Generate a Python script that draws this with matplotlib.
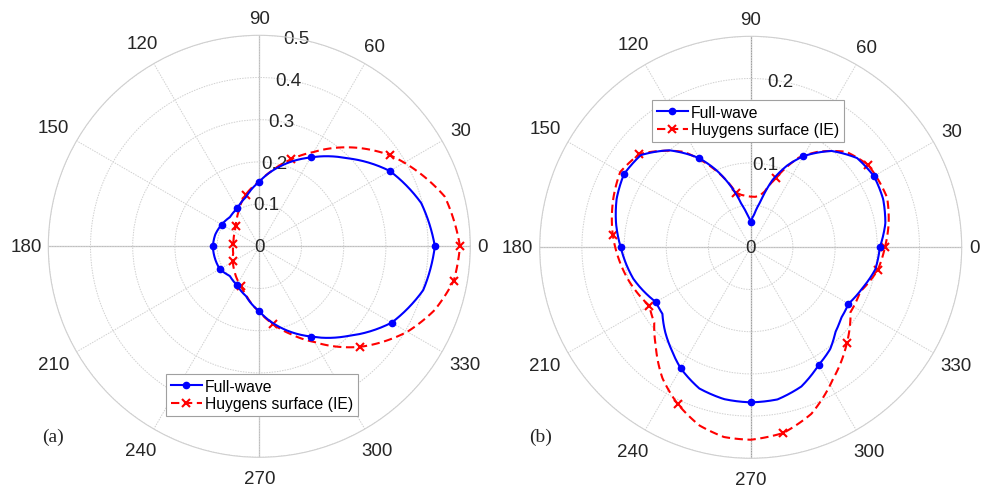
import numpy as np
import matplotlib.pyplot as plt
from matplotlib.lines import Line2D

# ---- data (angles in degrees, radius) ----
# (a) left plot
a_full_ang = [0, 15, 30, 45, 60, 75, 90, 105, 120, 135, 150, 165, 180, 195, 210,
              225, 240, 255, 270, 285, 300, 315, 330, 345, 360]
a_full_r = [0.416, 0.397, 0.357, 0.295, 0.243, 0.197, 0.153, 0.121, 0.104, 0.098,
            0.103, 0.108, 0.110, 0.109, 0.108, 0.099, 0.106, 0.122, 0.154, 0.200,
            0.247, 0.300, 0.362, 0.402, 0.416]
a_huy_ang = [0, 15, 35, 45, 60, 70, 80, 90, 105, 120, 130, 140, 150, 165, 175, 180,
             195, 210, 225, 235, 245, 255, 270, 280, 290, 300, 315, 330, 340, 350, 360]
a_huy_r = [0.4755, 0.455, 0.377, 0.330, 0.258, 0.219, 0.183, 0.153, 0.126, 0.097,
           0.083, 0.073, 0.067, 0.063, 0.062, 0.062, 0.064, 0.072, 0.083, 0.093,
           0.103, 0.120, 0.155, 0.187, 0.222, 0.262, 0.337, 0.405, 0.442, 0.468, 0.4755]

# (b) right plot
b_full_ang = [0, 10, 20, 30, 40, 50, 60, 66, 72, 78, 84, 90, 96, 102, 108, 114, 120,
              130, 140, 150, 160, 170, 180, 195, 210, 217, 225, 232, 240, 250, 260,
              270, 280, 290, 300, 308, 315, 322, 330, 340, 350, 360]
b_full_r = [0.153, 0.162, 0.167, 0.1686, 0.1645, 0.149, 0.1246, 0.106, 0.084, 0.055,
            0.039, 0.0304, 0.039, 0.052, 0.076, 0.100, 0.1218, 0.150, 0.170, 0.1734,
            0.169, 0.162, 0.154, 0.144, 0.1297, 0.131, 0.143, 0.153, 0.1657, 0.178,
            0.1826, 0.1837, 0.183, 0.1755, 0.161, 0.153, 0.142, 0.136, 0.1338, 0.141,
            0.150, 0.153]
b_huy_ang = [0, 10, 20, 35, 45, 55, 62, 70, 76, 80, 85, 90, 95, 100, 105, 115, 125,
             140, 150, 160, 175, 195, 210, 218, 226, 236, 245, 254, 262, 270, 280,
             290, 302, 315, 327, 338, 350, 360]
b_huy_r = [0.159, 0.166, 0.172, 0.170, 0.160, 0.138, 0.120, 0.0873, 0.068, 0.062,
           0.060, 0.060, 0.061, 0.063, 0.0667, 0.102, 0.138, 0.172, 0.1785, 0.173,
           0.164, 0.150, 0.1386, 0.145, 0.162, 0.187, 0.2048, 0.2197, 0.227, 0.228,
           0.2233, 0.210, 0.184, 0.161, 0.141, 0.140, 0.153, 0.159]

theta_labels = [0, 30, 60, 90, 120, 150, 180, 210, 240, 270, 300, 330]
label_pos = {0: 1.06, 30: 1.10, 60: 1.095, 90: 1.08, 120: 1.11, 150: 1.125,
             180: 1.105, 210: 1.125, 240: 1.12, 270: 1.10, 300: 1.12, 330: 1.125}

txt_col = '#262626'
grid_col = '#d0d0d0'
axis_col = '#bdbdbd'

plt.rcParams['font.family'] = ['Liberation Sans', 'DejaVu Sans']

fig = plt.figure(figsize=(9.88, 4.89), dpi=100)


def polar_panel(rect, rmax, rings, rlabels, full_ang, full_r, huy_ang, huy_r,
                tag, leg_anchor, vert_col):
    ax = fig.add_axes(rect, projection='polar')
    ax.set_ylim(0, rmax)
    ax.set_xticks(np.deg2rad(theta_labels))
    ax.set_xticklabels([])
    ax.set_yticks(rings)
    ax.set_yticklabels([])
    ax.grid(True, ls=(0, (1.5, 1.2)), color=grid_col, lw=0.7)
    ax.spines['polar'].set_color(grid_col)
    ax.spines['polar'].set_linewidth(0.8)
    for a, c in [(0, axis_col), (180, axis_col), (90, vert_col), (270, vert_col)]:
        ax.plot([np.deg2rad(a)] * 2, [0, rmax], color=c, lw=0.9, zorder=1)

    for a in theta_labels:
        ax.text(np.deg2rad(a), rmax * label_pos[a], str(a), ha='center', va='center',
                fontsize=13.5, color=txt_col, clip_on=False)
    for r in rlabels:
        ax.text(np.deg2rad(80), r, ('%g' % r), ha='center', va='center',
                fontsize=13.5, color=txt_col, zorder=2)

    fa = np.deg2rad(full_ang)
    fr = np.array(full_r)
    ha = np.deg2rad(huy_ang)
    hr = np.array(huy_r)
    red_marks = [i for i, a in enumerate(huy_ang) if a % 35 == 0 and a < 360]
    blue_marks = [i for i, a in enumerate(full_ang) if a % 30 == 0 and a < 360]

    red_style = dict(color='red', ls=(0, (4, 2.2)), lw=1.5)
    blue_style = dict(color='blue', ls='-', lw=1.5)
    l2, = ax.plot(ha, hr, zorder=3, **red_style)
    l1, = ax.plot(fa, fr, zorder=4, **blue_style)
    # draw the segments as arcs/spirals, like a continuous polar trace
    for ln in (l1, l2):
        ln.get_path()._interpolation_steps = 40
    ax.plot(ha[red_marks], hr[red_marks], ls='none', marker='x', color='red',
            ms=5.5, mew=1.5, zorder=3)
    ax.plot(fa[blue_marks], fr[blue_marks], ls='none', marker='o', color='blue',
            ms=4.5, zorder=4)

    h1 = Line2D([], [], marker='o', ms=4.5, **blue_style)
    h2 = Line2D([], [], marker='x', ms=5.5, mew=1.5, **red_style)
    leg = fig.legend([h1, h2], ['Full-wave', 'Huygens surface (IE)'],
                     loc='lower left', bbox_to_anchor=leg_anchor,
                     borderaxespad=0, fontsize=11.3, frameon=True, fancybox=False,
                     framealpha=1, edgecolor='#a0a0a0', handlelength=2.0,
                     handletextpad=0.2, borderpad=0.3, labelspacing=0.15)
    leg.get_frame().set_linewidth(0.8)

    fig.text(tag[0], tag[1], tag[2], family=['Liberation Serif', 'DejaVu Serif'],
             fontsize=14, color=txt_col, ha='center', va='center')
    return ax


R = 211
left_rect = [(259.3 - R) / 988, (489 - 247.3 - R) / 489, 2 * R / 988, 2 * R / 489]
right_rect = [(750.7 - R) / 988, (489 - 248.3 - R) / 489, 2 * R / 988, 2 * R / 489]

polar_panel(left_rect, 0.5, [0.1, 0.2, 0.3, 0.4, 0.5], [0, 0.1, 0.2, 0.3, 0.4, 0.5],
            a_full_ang, a_full_r, a_huy_ang, a_huy_r,
            (53 / 988, 1 - 437 / 489, '(a)'), (166 / 988, 1 - 417 / 489), axis_col)
polar_panel(right_rect, 0.25, [0.05, 0.1, 0.15, 0.2, 0.25], [0, 0.1, 0.2],
            b_full_ang, b_full_r, b_huy_ang, b_huy_r,
            (541 / 988, 1 - 437 / 489, '(b)'), (652 / 988, 1 - 143 / 489), '#9a9a9a')

fig.savefig('out.png', dpi=100)
